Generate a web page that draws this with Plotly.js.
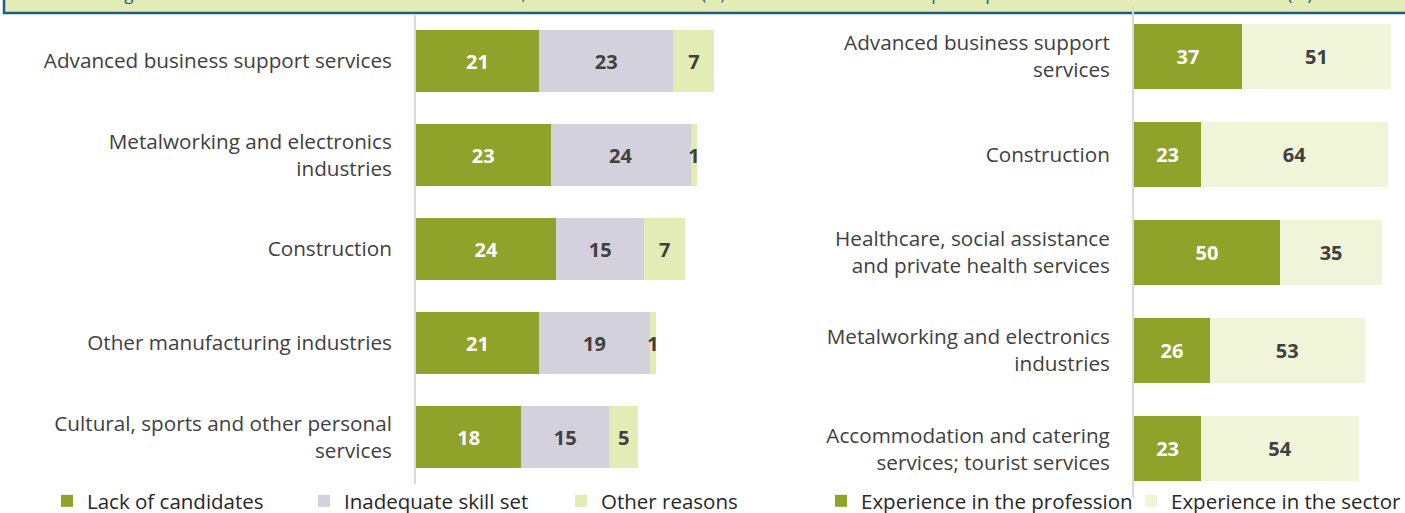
<!DOCTYPE html>
<html>
<head>
<meta charset="utf-8">
<script src="https://cdn.plot.ly/plotly-3.0.1.min.js"></script>
<style>
html,body{margin:0;padding:0;background:#fff;}
#chart{width:1405px;height:513px;}
</style>
</head>
<body>
<div id="chart"></div>
<script>
// ---- Left panel data ----
var leftCategories = [
  "Advanced business support services",
  "Metalworking and electronics industries",
  "Construction",
  "Other manufacturing industries",
  "Cultural, sports and other personal services"
];
var leftTickLabels = [
  "Advanced business support services",
  "Metalworking and electronics<br>industries",
  "Construction",
  "Other manufacturing industries",
  "Cultural, sports and other personal<br>services"
];
var lackOfCandidates = [21, 23, 24, 21, 18];
var inadequateSkillSet = [23, 24, 15, 19, 15];
var otherReasons = [7, 1, 7, 1, 5];

// ---- Right panel data ----
var rightCategories = [
  "Advanced business support services",
  "Construction",
  "Healthcare, social assistance and private health services",
  "Metalworking and electronics industries",
  "Accommodation and catering services; tourist services"
];
var rightTickLabels = [
  "Advanced business support<br>services",
  "Construction",
  "Healthcare, social assistance<br>and private health services",
  "Metalworking and electronics<br>industries",
  "Accommodation and catering<br>services; tourist services"
];
var experienceProfession = [37, 23, 50, 26, 23];
var experienceSector = [51, 64, 35, 53, 54];

var leftTitle = "Among sectors with HIGHEST RECRUITMENT DIFFICULTY, the different reasons (%)";
var rightTitle = "Sectors which request specific WORK EXPERIENCE the most (%)";

// ---- styles ----
var GREEN = "#8fa22a", GREY = "#d3d2dc", LIGHT = "#e3ecb5", PALE = "#f0f5da";
var FONT = "Open Sans, Noto Sans, sans-serif";
var DARK = "#404040";

function barTrace(cats, vals, name, color, txtColor, xa, ya, legend) {
  return {
    type: "bar", orientation: "h",
    y: cats, x: vals, name: name,
    xaxis: xa, yaxis: ya, legend: legend,
    marker: {color: color, line: {width: 0}},
    text: vals.map(String), textposition: "inside",
    insidetextanchor: "middle", constraintext: "none",
    textfont: {family: FONT, size: 20, color: txtColor, weight: "bold"},
    insidetextfont: {family: FONT, size: 20, color: txtColor, weight: "bold"},
    hoverinfo: "x+y+name", cliponaxis: false
  };
}

var data = [
  barTrace(leftCategories, lackOfCandidates, "Lack of candidates", GREEN, "#ffffff", "x", "y", "legend"),
  barTrace(leftCategories, inadequateSkillSet, "Inadequate skill set", GREY, DARK, "x", "y", "legend"),
  barTrace(leftCategories, otherReasons, "Other reasons", LIGHT, DARK, "x", "y", "legend"),
  barTrace(rightCategories, experienceProfession, "Experience in the profession", GREEN, "#ffffff", "x2", "y2", "legend2"),
  barTrace(rightCategories, experienceSector, "Experience in the sector", PALE, DARK, "x2", "y2", "legend2")
];

var W = 1405, H = 513;
function px(v){ return v / W; }
function py(v){ return (H - v) / H; }

var yCommon = {
  type: "category", autorange: "reversed",
  showline: true, linecolor: "#d9d9d9", linewidth: 2,
  ticks: "outside", ticklen: 18, tickcolor: "rgba(0,0,0,0)",
  tickfont: {family: FONT, size: 20.7, color: DARK},
  showgrid: false, zeroline: false, automargin: false, fixedrange: true
};
var xCommon = {
  showgrid: false, zeroline: false, showticklabels: false, showline: false,
  ticks: "", automargin: false, fixedrange: true
};

var layout = {
  width: W, height: H,
  margin: {l: 0, r: 0, t: 0, b: 0, pad: 0, autoexpand: false},
  paper_bgcolor: "#ffffff", plot_bgcolor: "rgba(0,0,0,0)",
  barmode: "stack", bargap: 0.34,
  font: {family: FONT, color: DARK},
  showlegend: true,
  xaxis: Object.assign({}, xCommon, {domain: [px(416), px(737.8)], range: [0, 55], anchor: "y"}),
  yaxis: Object.assign({}, yCommon, {domain: [py(484), py(14)], anchor: "x",
    tickmode: "array", tickvals: leftCategories, ticktext: leftTickLabels}),
  xaxis2: Object.assign({}, xCommon, {domain: [px(1134), px(1402.6)], range: [0, 92], anchor: "y2"}),
  yaxis2: Object.assign({}, yCommon, {domain: [py(498), py(7)], anchor: "x2",
    tickmode: "array", tickvals: rightCategories, ticktext: rightTickLabels}),
  legend: {
    orientation: "h", x: px(47), xanchor: "left", y: py(501), yanchor: "middle",
    font: {family: FONT, size: 20.5, color: "#262626"},
    entrywidth: 212, entrywidthmode: "pixels", traceorder: "normal",
    bgcolor: "rgba(0,0,0,0)", itemclick: false, itemdoubleclick: false
  },
  legend2: {
    orientation: "h", x: px(821), xanchor: "left", y: py(501), yanchor: "middle",
    font: {family: FONT, size: 20.5, color: "#262626"},
    entrywidth: 265, entrywidthmode: "pixels", traceorder: "normal",
    bgcolor: "rgba(0,0,0,0)", itemclick: false, itemdoubleclick: false
  },
  shapes: [
    {type: "rect", xref: "paper", yref: "paper", layer: "below",
     x0: px(4), x1: 1.02, y0: py(13), y1: 1.05,
     fillcolor: "#e3ecb5", line: {color: "#1f5c8b", width: 2.5}}
  ],
  annotations: [
    {text: leftTitle, xref: "paper", yref: "paper", x: px(75), xanchor: "left",
     y: py(7), yanchor: "bottom", showarrow: false,
     font: {family: FONT, size: 17, color: "#1f5c8b"}},
    {text: rightTitle, xref: "paper", yref: "paper", x: px(785), xanchor: "left",
     y: py(7), yanchor: "bottom", showarrow: false,
     font: {family: FONT, size: 18, color: "#1f5c8b"}}
  ]
};

Plotly.newPlot("chart", data, layout, {staticPlot: true, displayModeBar: false});
</script>
</body>
</html>
